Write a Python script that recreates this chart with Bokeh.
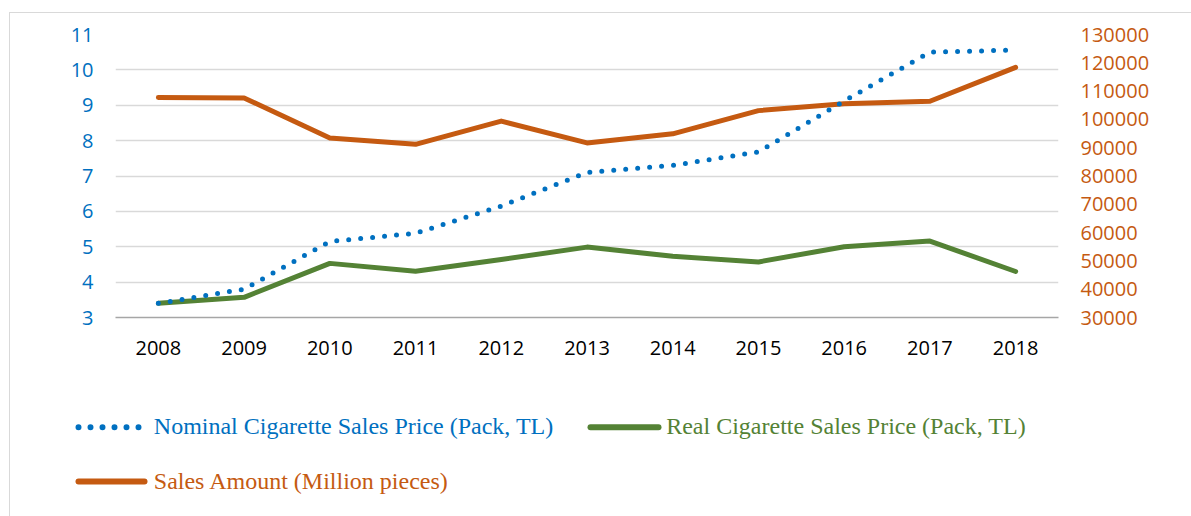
from bokeh.plotting import figure
from bokeh.layouts import column
from bokeh.models import (ColumnDataSource, Range1d, LinearAxis, FixedTicker,
                          FactorRange, NumeralTickFormatter)
from bokeh.core.properties import value
from bokeh.embed import file_html
from bokeh.resources import INLINE

years = ["2008", "2009", "2010", "2011", "2012", "2013", "2014", "2015", "2016", "2017", "2018"]
nominal_price = [3.40, 3.80, 5.15, 5.38, 6.15, 7.10, 7.30, 7.68, 9.12, 10.50, 10.56]
real_price = [3.40, 3.57, 4.53, 4.31, 4.64, 4.99, 4.73, 4.57, 5.00, 5.16, 4.30]
sales_amount = [107700, 107600, 93400, 91200, 99400, 91700, 94900, 103100, 105500, 106400, 118400]
left_ticks = [3, 4, 5, 6, 7, 8, 9, 10, 11]
right_ticks = [30000, 40000, 50000, 60000, 70000, 80000, 90000, 100000, 110000, 120000, 130000]
labels = ["Nominal Cigarette Sales Price (Pack, TL)", "Real Cigarette Sales Price (Pack, TL)",
          "Sales Amount (Million pieces)"]

BLUE = "#0070C0"
GREEN = "#548235"
ORANGE = "#C55A11"
GRID = "#D9D9D9"

src = ColumnDataSource(dict(year=years, nominal=nominal_price, real=real_price, sales=sales_amount))

W = 1181
H1 = 357
H2 = 146
p = figure(width=W, height=H1, x_range=FactorRange(*years), y_range=Range1d(3, 11),
           output_backend="svg", toolbar_location=None,
           min_border_left=105, min_border_right=133, min_border_top=21, min_border_bottom=53)
p.outline_line_color = None
p.background_fill_color = "white"
p.border_fill_color = "white"
p.x_range.range_padding = 0
p.extra_y_ranges = {"sales": Range1d(30000, 130000)}

p.xgrid.grid_line_color = None
p.ygrid.grid_line_color = GRID
p.ygrid.grid_line_width = 1.5
p.ygrid.ticker = FixedTicker(ticks=left_ticks)

TICK_FONT = "Open Sans"
FS = "20px"

def style_axis(ax, color, standoff):
    ax.axis_line_color = None
    ax.major_tick_line_color = None
    ax.minor_tick_line_color = None
    ax.major_tick_out = 0
    ax.major_tick_in = 0
    ax.minor_tick_out = 0
    ax.minor_tick_in = 0
    ax.major_label_text_color = color
    ax.major_label_text_font = TICK_FONT
    ax.major_label_text_font_size = FS
    ax.major_label_standoff = standoff

ya = p.yaxis[0]
ya.ticker = FixedTicker(ticks=left_ticks)
style_axis(ya, BLUE, 22)

xa = p.xaxis[0]
style_axis(xa, "black", 23)
xa.axis_line_color = "#A6A6A6"
xa.axis_line_width = 1.5

ra = LinearAxis(y_range_name="sales", ticker=FixedTicker(ticks=right_ticks),
                formatter=NumeralTickFormatter(format="0"))
style_axis(ra, ORANGE, 22)
p.add_layout(ra, "right")

line_kw = dict(line_width=5, line_cap="round", line_join="round")
p.line("year", "sales", source=src, y_range_name="sales", line_color=ORANGE, **line_kw)
p.line("year", "real", source=src, line_color=GREEN, **line_kw)
p.line("year", "nominal", source=src, line_color=BLUE, line_dash="0 12", **line_kw)

# legend panel: its ranges are pixel positions of the panel
lp = figure(width=W, height=H2, x_range=Range1d(0, W), y_range=Range1d(H2, 0),
            output_backend="svg", toolbar_location=None, min_border=0)
lp.outline_line_color = None
lp.axis.visible = False
lp.grid.visible = False
lp.background_fill_color = "white"
lp.border_fill_color = "white"
for fig in (p, lp):
    if hasattr(fig, "frame_align"):
        fig.frame_align = False

sw_kw = dict(line_width=6, line_cap="round", line_join="round")
lp.line(x=[68, 129], y=[56.7, 56.7], line_color=BLUE, line_dash="0 12", **sw_kw)
lp.line(x=[580, 648], y=[56.7, 56.7], line_color=GREEN, **sw_kw)
lp.line(x=[68, 134], y=[111, 111], line_color=ORANGE, **sw_kw)

leg_src = ColumnDataSource(dict(x=[143.3, 655.7, 143.3], y=[55, 55, 110], t=labels,
                                c=[BLUE, GREEN, ORANGE]))
lp.text(x="x", y="y", text="t", text_color="c", source=leg_src,
        text_font=value("Liberation Serif"), text_font_size="24px",
        text_align="left", text_baseline="alphabetic")

layout = column(p, lp, spacing=0,
                styles={"margin-left": "9px", "margin-top": "12px",
                        "border-left": "1px solid #D9D9D9", "border-top": "1px solid #D9D9D9"})

open("out.html", "w").write(file_html(layout, INLINE))
